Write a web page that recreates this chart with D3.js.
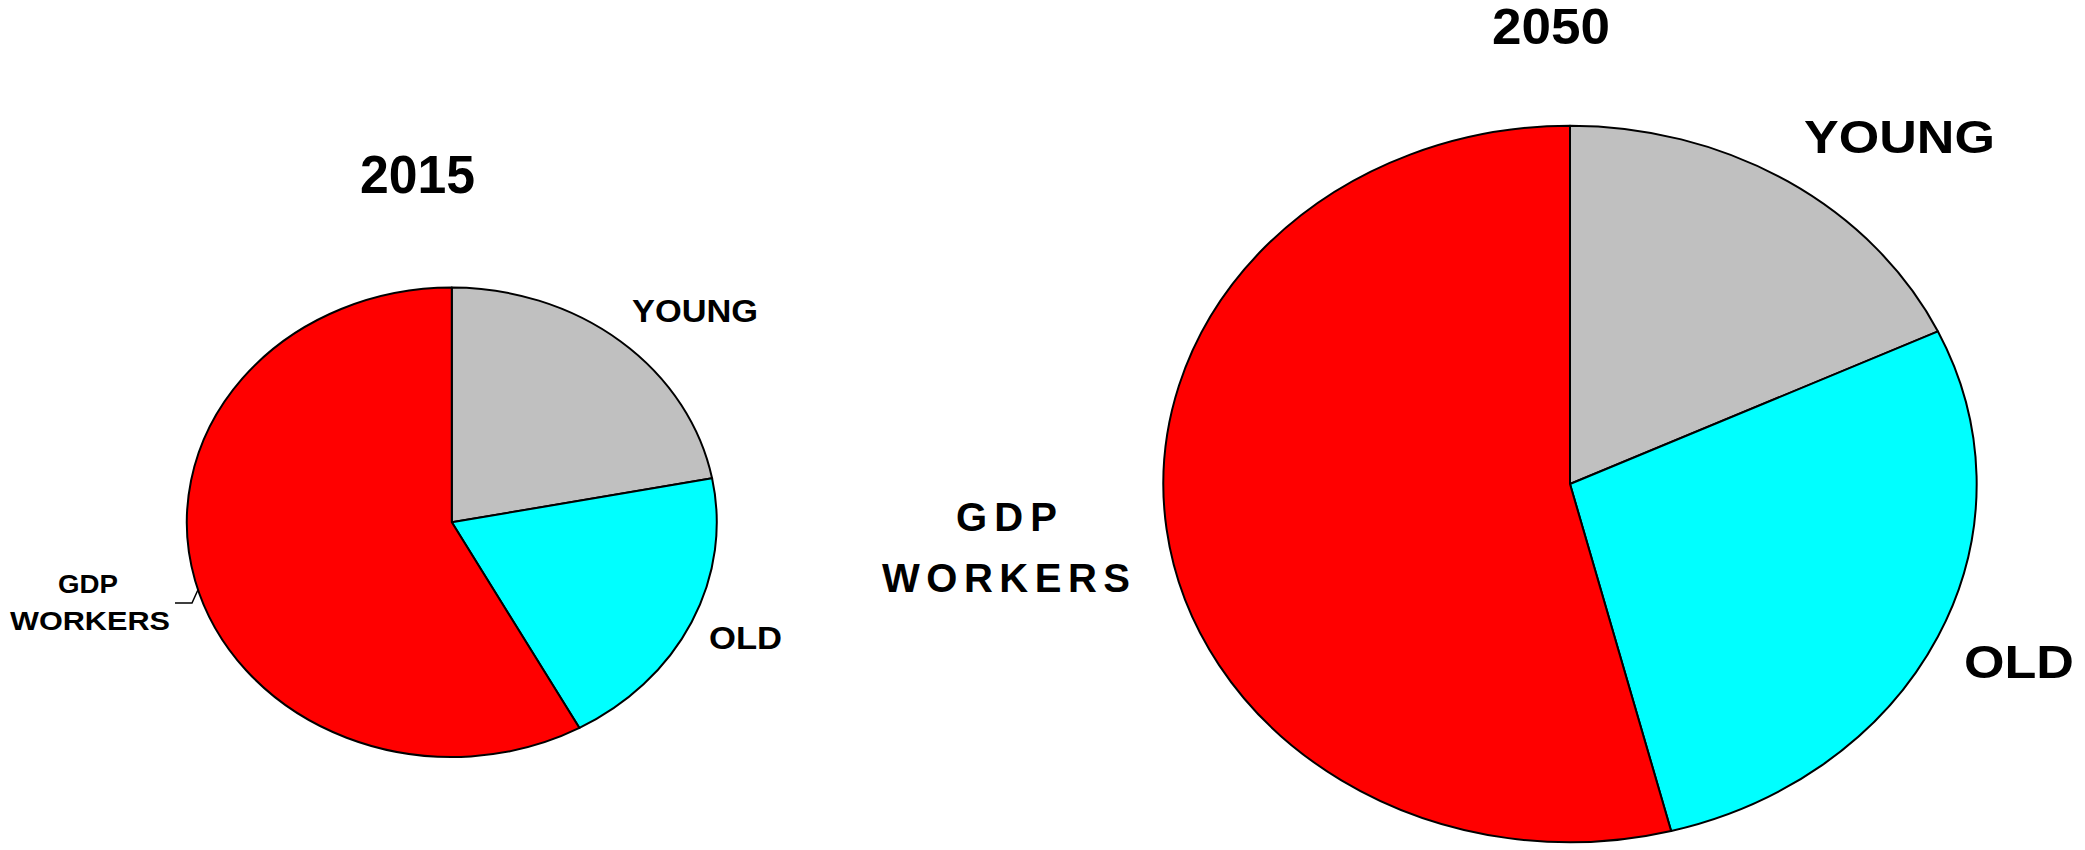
<!DOCTYPE html>
<html>
<head>
<meta charset="utf-8">
<script src="https://cdn.jsdelivr.net/npm/d3@7"></script>
<style>
  html, body { margin: 0; padding: 0; background: #fff; }
  svg { display: block; }
  text { font-family: "Liberation Sans", Arial, sans-serif; font-weight: bold; fill: #000; }
</style>
</head>
<body>
<svg id="chart" width="2085" height="850"></svg>
<script>
// Population shares (%) by group, clockwise from 12 o'clock
const years = ["2015", "2050"];
const categories = ["YOUNG", "OLD", "GDP WORKERS"];
const share2015 = [22, 20, 58];
const share2050 = [18, 28, 54];
const colors = ["#C0C0C0", "#00FFFF", "#FF0000"];

const svg = d3.select("#chart");
const color = d3.scaleOrdinal().domain(categories).range(colors);
const pie = d3.pie().sort(null).value(d => d.value);

// Each pie is drawn as a circle and stretched horizontally into an ellipse
const layout = [
  {
    year: years[0], values: share2015, cx: 451.8, cy: 522.3, r: 234.7, sx: 1.129,
    title: { x: 417.5, y: 193, size: 53, w: 115 },
    labels: [
      { lines: ["YOUNG"], x: 632, y: [322], size: 32, w: [126] },
      { lines: ["OLD"], x: 709, y: [649], size: 32, w: [73] },
      { lines: ["GDP", "WORKERS"], x: [58, 10], y: [593, 630], size: 26, w: [60, 160],
        leader: { angle: 253.3, elbow: [192, 603], end: [175, 603] } }
    ]
  },
  {
    year: years[1], values: share2050, cx: 1570, cy: 484, r: 358.3, sx: 1.135,
    title: { x: 1551, y: 44, size: 50, w: 118 },
    labels: [
      { lines: ["YOUNG"], x: 1804, y: [153], size: 46, w: [191] },
      { lines: ["OLD"], x: 1964, y: [678], size: 46, w: [110] },
      { lines: ["GDP", "WORKERS"], x: [956, 882], y: [531, 592], size: 40, w: [101, 248], spaced: true }
    ]
  }
];

layout.forEach(p => {
  const data = categories.map((c, i) => ({ key: c, value: p.values[i] }));
  const arcs = pie(data);
  const arc = d3.arc().innerRadius(0).outerRadius(p.r);

  const g = svg.append("g")
    .attr("transform", `translate(${p.cx},${p.cy}) scale(${p.sx},1)`);

  g.selectAll("path")
    .data(arcs)
    .join("path")
    .attr("d", arc)
    .attr("fill", d => color(d.data.key))
    .attr("stroke", "#000")
    .attr("stroke-width", 2)
    .attr("stroke-linejoin", "round")
    .attr("vector-effect", "non-scaling-stroke");

  // Year title
  svg.append("text")
    .attr("x", p.title.x - p.title.w / 2)
    .attr("y", p.title.y)
    .attr("font-size", p.title.size)
    .attr("textLength", p.title.w)
    .attr("lengthAdjust", "spacingAndGlyphs")
    .text(p.year);

  // Category labels
  p.labels.forEach(l => {
    l.lines.forEach((t, j) => {
      const x = Array.isArray(l.x) ? l.x[j] : l.x;
      svg.append("text")
        .attr("x", x)
        .attr("y", l.y[j])
        .attr("font-size", l.size)
        .attr("textLength", l.w[j])
        .attr("lengthAdjust", l.spaced ? "spacing" : "spacingAndGlyphs")
        .text(t);
    });
    if (l.leader) {
      const a = l.leader.angle * Math.PI / 180;
      const px = p.cx + p.sx * p.r * Math.sin(a);
      const py = p.cy - p.r * Math.cos(a);
      svg.append("polyline")
        .attr("points", [l.leader.end, l.leader.elbow, [px, py]].map(q => q.join(",")).join(" "))
        .attr("fill", "none")
        .attr("stroke", "#000")
        .attr("stroke-width", 1.5);
    }
  });
});
</script>
</body>
</html>
